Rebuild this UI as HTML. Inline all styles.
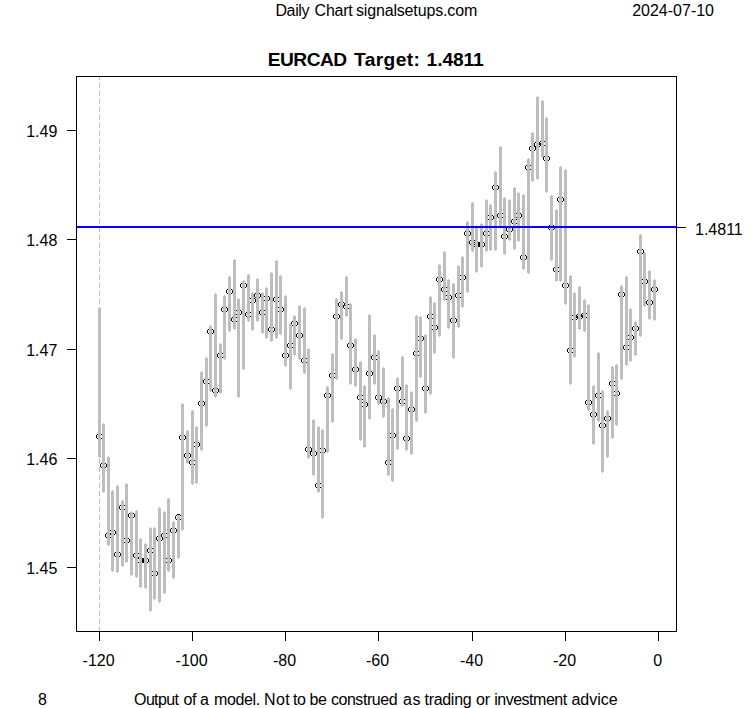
<!DOCTYPE html>
<html lang="en"><head><meta charset="utf-8"><title>EURCAD Target: 1.4811</title>
<style>html,body{margin:0;padding:0;background:#fff}body{width:753px;height:708px;overflow:hidden}svg{display:block}text{font-family:"Liberation Sans",Arial,sans-serif;font-size:16px;fill:#000}.t{font-weight:bold;font-size:19.2px}</style></head><body>
<svg width="753" height="708" viewBox="0 0 753 708">
<rect width="753" height="708" fill="#fff"/>
<g fill="#000" shape-rendering="crispEdges">
<path d="M98 433h3v1h-3zM98 439h3v1h-3zM96 435h1v3h-1zM102 435h1v3h-1zM97 434h1v1h-1zM97 438h1v1h-1zM101 434h1v1h-1zM101 438h1v1h-1zM102 462h3v1h-3zM102 468h3v1h-3zM100 464h1v3h-1zM106 464h1v3h-1zM101 463h1v1h-1zM101 467h1v1h-1zM105 463h1v1h-1zM105 467h1v1h-1zM107 532h3v1h-3zM107 538h3v1h-3zM105 534h1v3h-1zM111 534h1v3h-1zM106 533h1v1h-1zM106 537h1v1h-1zM110 533h1v1h-1zM110 537h1v1h-1zM111 529h3v1h-3zM111 535h3v1h-3zM109 531h1v3h-1zM115 531h1v3h-1zM110 530h1v1h-1zM110 534h1v1h-1zM114 530h1v1h-1zM114 534h1v1h-1zM116 551h3v1h-3zM116 557h3v1h-3zM114 553h1v3h-1zM120 553h1v3h-1zM115 552h1v1h-1zM115 556h1v1h-1zM119 552h1v1h-1zM119 556h1v1h-1zM121 504h3v1h-3zM121 510h3v1h-3zM119 506h1v3h-1zM125 506h1v3h-1zM120 505h1v1h-1zM120 509h1v1h-1zM124 505h1v1h-1zM124 509h1v1h-1zM125 537h3v1h-3zM125 543h3v1h-3zM123 539h1v3h-1zM129 539h1v3h-1zM124 538h1v1h-1zM124 542h1v1h-1zM128 538h1v1h-1zM128 542h1v1h-1zM130 512h3v1h-3zM130 518h3v1h-3zM128 514h1v3h-1zM134 514h1v3h-1zM129 513h1v1h-1zM129 517h1v1h-1zM133 513h1v1h-1zM133 517h1v1h-1zM135 552h3v1h-3zM135 558h3v1h-3zM133 554h1v3h-1zM139 554h1v3h-1zM134 553h1v1h-1zM134 557h1v1h-1zM138 553h1v1h-1zM138 557h1v1h-1zM139 557h3v1h-3zM139 563h3v1h-3zM137 559h1v3h-1zM143 559h1v3h-1zM138 558h1v1h-1zM138 562h1v1h-1zM142 558h1v1h-1zM142 562h1v1h-1zM144 557h3v1h-3zM144 563h3v1h-3zM142 559h1v3h-1zM148 559h1v3h-1zM143 558h1v1h-1zM143 562h1v1h-1zM147 558h1v1h-1zM147 562h1v1h-1zM149 547h3v1h-3zM149 553h3v1h-3zM147 549h1v3h-1zM153 549h1v3h-1zM148 548h1v1h-1zM148 552h1v1h-1zM152 548h1v1h-1zM152 552h1v1h-1zM153 570h3v1h-3zM153 576h3v1h-3zM151 572h1v3h-1zM157 572h1v3h-1zM152 571h1v1h-1zM152 575h1v1h-1zM156 571h1v1h-1zM156 575h1v1h-1zM158 535h3v1h-3zM158 541h3v1h-3zM156 537h1v3h-1zM162 537h1v3h-1zM157 536h1v1h-1zM157 540h1v1h-1zM161 536h1v1h-1zM161 540h1v1h-1zM163 532h3v1h-3zM163 538h3v1h-3zM161 534h1v3h-1zM167 534h1v3h-1zM162 533h1v1h-1zM162 537h1v1h-1zM166 533h1v1h-1zM166 537h1v1h-1zM167 557h3v1h-3zM167 563h3v1h-3zM165 559h1v3h-1zM171 559h1v3h-1zM166 558h1v1h-1zM166 562h1v1h-1zM170 558h1v1h-1zM170 562h1v1h-1zM172 527h3v1h-3zM172 533h3v1h-3zM170 529h1v3h-1zM176 529h1v3h-1zM171 528h1v1h-1zM171 532h1v1h-1zM175 528h1v1h-1zM175 532h1v1h-1zM177 514h3v1h-3zM177 520h3v1h-3zM175 516h1v3h-1zM181 516h1v3h-1zM176 515h1v1h-1zM176 519h1v1h-1zM180 515h1v1h-1zM180 519h1v1h-1zM181 434h3v1h-3zM181 440h3v1h-3zM179 436h1v3h-1zM185 436h1v3h-1zM180 435h1v1h-1zM180 439h1v1h-1zM184 435h1v1h-1zM184 439h1v1h-1zM186 452h3v1h-3zM186 458h3v1h-3zM184 454h1v3h-1zM190 454h1v3h-1zM185 453h1v1h-1zM185 457h1v1h-1zM189 453h1v1h-1zM189 457h1v1h-1zM191 459h3v1h-3zM191 465h3v1h-3zM189 461h1v3h-1zM195 461h1v3h-1zM190 460h1v1h-1zM190 464h1v1h-1zM194 460h1v1h-1zM194 464h1v1h-1zM195 441h3v1h-3zM195 447h3v1h-3zM193 443h1v3h-1zM199 443h1v3h-1zM194 442h1v1h-1zM194 446h1v1h-1zM198 442h1v1h-1zM198 446h1v1h-1zM200 400h3v1h-3zM200 406h3v1h-3zM198 402h1v3h-1zM204 402h1v3h-1zM199 401h1v1h-1zM199 405h1v1h-1zM203 401h1v1h-1zM203 405h1v1h-1zM205 378h3v1h-3zM205 384h3v1h-3zM203 380h1v3h-1zM209 380h1v3h-1zM204 379h1v1h-1zM204 383h1v1h-1zM208 379h1v1h-1zM208 383h1v1h-1zM209 328h3v1h-3zM209 334h3v1h-3zM207 330h1v3h-1zM213 330h1v3h-1zM208 329h1v1h-1zM208 333h1v1h-1zM212 329h1v1h-1zM212 333h1v1h-1zM214 387h3v1h-3zM214 393h3v1h-3zM212 389h1v3h-1zM218 389h1v3h-1zM213 388h1v1h-1zM213 392h1v1h-1zM217 388h1v1h-1zM217 392h1v1h-1zM219 352h3v1h-3zM219 358h3v1h-3zM217 354h1v3h-1zM223 354h1v3h-1zM218 353h1v1h-1zM218 357h1v1h-1zM222 353h1v1h-1zM222 357h1v1h-1zM223 306h3v1h-3zM223 312h3v1h-3zM221 308h1v3h-1zM227 308h1v3h-1zM222 307h1v1h-1zM222 311h1v1h-1zM226 307h1v1h-1zM226 311h1v1h-1zM228 288h3v1h-3zM228 294h3v1h-3zM226 290h1v3h-1zM232 290h1v3h-1zM227 289h1v1h-1zM227 293h1v1h-1zM231 289h1v1h-1zM231 293h1v1h-1zM233 316h3v1h-3zM233 322h3v1h-3zM231 318h1v3h-1zM237 318h1v3h-1zM232 317h1v1h-1zM232 321h1v1h-1zM236 317h1v1h-1zM236 321h1v1h-1zM237 309h3v1h-3zM237 315h3v1h-3zM235 311h1v3h-1zM241 311h1v3h-1zM236 310h1v1h-1zM236 314h1v1h-1zM240 310h1v1h-1zM240 314h1v1h-1zM242 282h3v1h-3zM242 288h3v1h-3zM240 284h1v3h-1zM246 284h1v3h-1zM241 283h1v1h-1zM241 287h1v1h-1zM245 283h1v1h-1zM245 287h1v1h-1zM247 311h3v1h-3zM247 317h3v1h-3zM245 313h1v3h-1zM251 313h1v3h-1zM246 312h1v1h-1zM246 316h1v1h-1zM250 312h1v1h-1zM250 316h1v1h-1zM251 297h3v1h-3zM251 303h3v1h-3zM249 299h1v3h-1zM255 299h1v3h-1zM250 298h1v1h-1zM250 302h1v1h-1zM254 298h1v1h-1zM254 302h1v1h-1zM256 292h3v1h-3zM256 298h3v1h-3zM254 294h1v3h-1zM260 294h1v3h-1zM255 293h1v1h-1zM255 297h1v1h-1zM259 293h1v1h-1zM259 297h1v1h-1zM261 309h3v1h-3zM261 315h3v1h-3zM259 311h1v3h-1zM265 311h1v3h-1zM260 310h1v1h-1zM260 314h1v1h-1zM264 310h1v1h-1zM264 314h1v1h-1zM265 295h3v1h-3zM265 301h3v1h-3zM263 297h1v3h-1zM269 297h1v3h-1zM264 296h1v1h-1zM264 300h1v1h-1zM268 296h1v1h-1zM268 300h1v1h-1zM270 326h3v1h-3zM270 332h3v1h-3zM268 328h1v3h-1zM274 328h1v3h-1zM269 327h1v1h-1zM269 331h1v1h-1zM273 327h1v1h-1zM273 331h1v1h-1zM275 296h3v1h-3zM275 302h3v1h-3zM273 298h1v3h-1zM279 298h1v3h-1zM274 297h1v1h-1zM274 301h1v1h-1zM278 297h1v1h-1zM278 301h1v1h-1zM279 306h3v1h-3zM279 312h3v1h-3zM277 308h1v3h-1zM283 308h1v3h-1zM278 307h1v1h-1zM278 311h1v1h-1zM282 307h1v1h-1zM282 311h1v1h-1zM284 352h3v1h-3zM284 358h3v1h-3zM282 354h1v3h-1zM288 354h1v3h-1zM283 353h1v1h-1zM283 357h1v1h-1zM287 353h1v1h-1zM287 357h1v1h-1zM289 342h3v1h-3zM289 348h3v1h-3zM287 344h1v3h-1zM293 344h1v3h-1zM288 343h1v1h-1zM288 347h1v1h-1zM292 343h1v1h-1zM292 347h1v1h-1zM293 320h3v1h-3zM293 326h3v1h-3zM291 322h1v3h-1zM297 322h1v3h-1zM292 321h1v1h-1zM292 325h1v1h-1zM296 321h1v1h-1zM296 325h1v1h-1zM298 332h3v1h-3zM298 338h3v1h-3zM296 334h1v3h-1zM302 334h1v3h-1zM297 333h1v1h-1zM297 337h1v1h-1zM301 333h1v1h-1zM301 337h1v1h-1zM303 357h3v1h-3zM303 363h3v1h-3zM301 359h1v3h-1zM307 359h1v3h-1zM302 358h1v1h-1zM302 362h1v1h-1zM306 358h1v1h-1zM306 362h1v1h-1zM307 446h3v1h-3zM307 452h3v1h-3zM305 448h1v3h-1zM311 448h1v3h-1zM306 447h1v1h-1zM306 451h1v1h-1zM310 447h1v1h-1zM310 451h1v1h-1zM312 450h3v1h-3zM312 456h3v1h-3zM310 452h1v3h-1zM316 452h1v3h-1zM311 451h1v1h-1zM311 455h1v1h-1zM315 451h1v1h-1zM315 455h1v1h-1zM317 482h3v1h-3zM317 488h3v1h-3zM315 484h1v3h-1zM321 484h1v3h-1zM316 483h1v1h-1zM316 487h1v1h-1zM320 483h1v1h-1zM320 487h1v1h-1zM321 447h3v1h-3zM321 453h3v1h-3zM319 449h1v3h-1zM325 449h1v3h-1zM320 448h1v1h-1zM320 452h1v1h-1zM324 448h1v1h-1zM324 452h1v1h-1zM326 392h3v1h-3zM326 398h3v1h-3zM324 394h1v3h-1zM330 394h1v3h-1zM325 393h1v1h-1zM325 397h1v1h-1zM329 393h1v1h-1zM329 397h1v1h-1zM331 372h3v1h-3zM331 378h3v1h-3zM329 374h1v3h-1zM335 374h1v3h-1zM330 373h1v1h-1zM330 377h1v1h-1zM334 373h1v1h-1zM334 377h1v1h-1zM335 313h3v1h-3zM335 319h3v1h-3zM333 315h1v3h-1zM339 315h1v3h-1zM334 314h1v1h-1zM334 318h1v1h-1zM338 314h1v1h-1zM338 318h1v1h-1zM340 301h3v1h-3zM340 307h3v1h-3zM338 303h1v3h-1zM344 303h1v3h-1zM339 302h1v1h-1zM339 306h1v1h-1zM343 302h1v1h-1zM343 306h1v1h-1zM345 303h3v1h-3zM345 309h3v1h-3zM343 305h1v3h-1zM349 305h1v3h-1zM344 304h1v1h-1zM344 308h1v1h-1zM348 304h1v1h-1zM348 308h1v1h-1zM349 342h3v1h-3zM349 348h3v1h-3zM347 344h1v3h-1zM353 344h1v3h-1zM348 343h1v1h-1zM348 347h1v1h-1zM352 343h1v1h-1zM352 347h1v1h-1zM354 366h3v1h-3zM354 372h3v1h-3zM352 368h1v3h-1zM358 368h1v3h-1zM353 367h1v1h-1zM353 371h1v1h-1zM357 367h1v1h-1zM357 371h1v1h-1zM359 394h3v1h-3zM359 400h3v1h-3zM357 396h1v3h-1zM363 396h1v3h-1zM358 395h1v1h-1zM358 399h1v1h-1zM362 395h1v1h-1zM362 399h1v1h-1zM363 401h3v1h-3zM363 407h3v1h-3zM361 403h1v3h-1zM367 403h1v3h-1zM362 402h1v1h-1zM362 406h1v1h-1zM366 402h1v1h-1zM366 406h1v1h-1zM368 370h3v1h-3zM368 376h3v1h-3zM366 372h1v3h-1zM372 372h1v3h-1zM367 371h1v1h-1zM367 375h1v1h-1zM371 371h1v1h-1zM371 375h1v1h-1zM373 354h3v1h-3zM373 360h3v1h-3zM371 356h1v3h-1zM377 356h1v3h-1zM372 355h1v1h-1zM372 359h1v1h-1zM376 355h1v1h-1zM376 359h1v1h-1zM377 394h3v1h-3zM377 400h3v1h-3zM375 396h1v3h-1zM381 396h1v3h-1zM376 395h1v1h-1zM376 399h1v1h-1zM380 395h1v1h-1zM380 399h1v1h-1zM382 398h3v1h-3zM382 404h3v1h-3zM380 400h1v3h-1zM386 400h1v3h-1zM381 399h1v1h-1zM381 403h1v1h-1zM385 399h1v1h-1zM385 403h1v1h-1zM387 459h3v1h-3zM387 465h3v1h-3zM385 461h1v3h-1zM391 461h1v3h-1zM386 460h1v1h-1zM386 464h1v1h-1zM390 460h1v1h-1zM390 464h1v1h-1zM391 432h3v1h-3zM391 438h3v1h-3zM389 434h1v3h-1zM395 434h1v3h-1zM390 433h1v1h-1zM390 437h1v1h-1zM394 433h1v1h-1zM394 437h1v1h-1zM396 385h3v1h-3zM396 391h3v1h-3zM394 387h1v3h-1zM400 387h1v3h-1zM395 386h1v1h-1zM395 390h1v1h-1zM399 386h1v1h-1zM399 390h1v1h-1zM401 398h3v1h-3zM401 404h3v1h-3zM399 400h1v3h-1zM405 400h1v3h-1zM400 399h1v1h-1zM400 403h1v1h-1zM404 399h1v1h-1zM404 403h1v1h-1zM405 435h3v1h-3zM405 441h3v1h-3zM403 437h1v3h-1zM409 437h1v3h-1zM404 436h1v1h-1zM404 440h1v1h-1zM408 436h1v1h-1zM408 440h1v1h-1zM410 406h3v1h-3zM410 412h3v1h-3zM408 408h1v3h-1zM414 408h1v3h-1zM409 407h1v1h-1zM409 411h1v1h-1zM413 407h1v1h-1zM413 411h1v1h-1zM415 350h3v1h-3zM415 356h3v1h-3zM413 352h1v3h-1zM419 352h1v3h-1zM414 351h1v1h-1zM414 355h1v1h-1zM418 351h1v1h-1zM418 355h1v1h-1zM419 335h3v1h-3zM419 341h3v1h-3zM417 337h1v3h-1zM423 337h1v3h-1zM418 336h1v1h-1zM418 340h1v1h-1zM422 336h1v1h-1zM422 340h1v1h-1zM424 385h3v1h-3zM424 391h3v1h-3zM422 387h1v3h-1zM428 387h1v3h-1zM423 386h1v1h-1zM423 390h1v1h-1zM427 386h1v1h-1zM427 390h1v1h-1zM429 313h3v1h-3zM429 319h3v1h-3zM427 315h1v3h-1zM433 315h1v3h-1zM428 314h1v1h-1zM428 318h1v1h-1zM432 314h1v1h-1zM432 318h1v1h-1zM433 324h3v1h-3zM433 330h3v1h-3zM431 326h1v3h-1zM437 326h1v3h-1zM432 325h1v1h-1zM432 329h1v1h-1zM436 325h1v1h-1zM436 329h1v1h-1zM438 276h3v1h-3zM438 282h3v1h-3zM436 278h1v3h-1zM442 278h1v3h-1zM437 277h1v1h-1zM437 281h1v1h-1zM441 277h1v1h-1zM441 281h1v1h-1zM443 286h3v1h-3zM443 292h3v1h-3zM441 288h1v3h-1zM447 288h1v3h-1zM442 287h1v1h-1zM442 291h1v1h-1zM446 287h1v1h-1zM446 291h1v1h-1zM447 294h3v1h-3zM447 300h3v1h-3zM445 296h1v3h-1zM451 296h1v3h-1zM446 295h1v1h-1zM446 299h1v1h-1zM450 295h1v1h-1zM450 299h1v1h-1zM452 317h3v1h-3zM452 323h3v1h-3zM450 319h1v3h-1zM456 319h1v3h-1zM451 318h1v1h-1zM451 322h1v1h-1zM455 318h1v1h-1zM455 322h1v1h-1zM457 292h3v1h-3zM457 298h3v1h-3zM455 294h1v3h-1zM461 294h1v3h-1zM456 293h1v1h-1zM456 297h1v1h-1zM460 293h1v1h-1zM460 297h1v1h-1zM461 274h3v1h-3zM461 280h3v1h-3zM459 276h1v3h-1zM465 276h1v3h-1zM460 275h1v1h-1zM460 279h1v1h-1zM464 275h1v1h-1zM464 279h1v1h-1zM466 230h3v1h-3zM466 236h3v1h-3zM464 232h1v3h-1zM470 232h1v3h-1zM465 231h1v1h-1zM465 235h1v1h-1zM469 231h1v1h-1zM469 235h1v1h-1zM471 239h3v1h-3zM471 245h3v1h-3zM469 241h1v3h-1zM475 241h1v3h-1zM470 240h1v1h-1zM470 244h1v1h-1zM474 240h1v1h-1zM474 244h1v1h-1zM475 241h3v1h-3zM475 247h3v1h-3zM473 243h1v3h-1zM479 243h1v3h-1zM474 242h1v1h-1zM474 246h1v1h-1zM478 242h1v1h-1zM478 246h1v1h-1zM480 241h3v1h-3zM480 247h3v1h-3zM478 243h1v3h-1zM484 243h1v3h-1zM479 242h1v1h-1zM479 246h1v1h-1zM483 242h1v1h-1zM483 246h1v1h-1zM485 230h3v1h-3zM485 236h3v1h-3zM483 232h1v3h-1zM489 232h1v3h-1zM484 231h1v1h-1zM484 235h1v1h-1zM488 231h1v1h-1zM488 235h1v1h-1zM489 214h3v1h-3zM489 220h3v1h-3zM487 216h1v3h-1zM493 216h1v3h-1zM488 215h1v1h-1zM488 219h1v1h-1zM492 215h1v1h-1zM492 219h1v1h-1zM494 184h3v1h-3zM494 190h3v1h-3zM492 186h1v3h-1zM498 186h1v3h-1zM493 185h1v1h-1zM493 189h1v1h-1zM497 185h1v1h-1zM497 189h1v1h-1zM499 212h3v1h-3zM499 218h3v1h-3zM497 214h1v3h-1zM503 214h1v3h-1zM498 213h1v1h-1zM498 217h1v1h-1zM502 213h1v1h-1zM502 217h1v1h-1zM503 233h3v1h-3zM503 239h3v1h-3zM501 235h1v3h-1zM507 235h1v3h-1zM502 234h1v1h-1zM502 238h1v1h-1zM506 234h1v1h-1zM506 238h1v1h-1zM508 226h3v1h-3zM508 232h3v1h-3zM506 228h1v3h-1zM512 228h1v3h-1zM507 227h1v1h-1zM507 231h1v1h-1zM511 227h1v1h-1zM511 231h1v1h-1zM513 218h3v1h-3zM513 224h3v1h-3zM511 220h1v3h-1zM517 220h1v3h-1zM512 219h1v1h-1zM512 223h1v1h-1zM516 219h1v1h-1zM516 223h1v1h-1zM517 212h3v1h-3zM517 218h3v1h-3zM515 214h1v3h-1zM521 214h1v3h-1zM516 213h1v1h-1zM516 217h1v1h-1zM520 213h1v1h-1zM520 217h1v1h-1zM522 254h3v1h-3zM522 260h3v1h-3zM520 256h1v3h-1zM526 256h1v3h-1zM521 255h1v1h-1zM521 259h1v1h-1zM525 255h1v1h-1zM525 259h1v1h-1zM527 164h3v1h-3zM527 170h3v1h-3zM525 166h1v3h-1zM531 166h1v3h-1zM526 165h1v1h-1zM526 169h1v1h-1zM530 165h1v1h-1zM530 169h1v1h-1zM531 145h3v1h-3zM531 151h3v1h-3zM529 147h1v3h-1zM535 147h1v3h-1zM530 146h1v1h-1zM530 150h1v1h-1zM534 146h1v1h-1zM534 150h1v1h-1zM536 141h3v1h-3zM536 147h3v1h-3zM534 143h1v3h-1zM540 143h1v3h-1zM535 142h1v1h-1zM535 146h1v1h-1zM539 142h1v1h-1zM539 146h1v1h-1zM541 140h3v1h-3zM541 146h3v1h-3zM539 142h1v3h-1zM545 142h1v3h-1zM540 141h1v1h-1zM540 145h1v1h-1zM544 141h1v1h-1zM544 145h1v1h-1zM545 155h3v1h-3zM545 161h3v1h-3zM543 157h1v3h-1zM549 157h1v3h-1zM544 156h1v1h-1zM544 160h1v1h-1zM548 156h1v1h-1zM548 160h1v1h-1zM550 224h3v1h-3zM550 230h3v1h-3zM548 226h1v3h-1zM554 226h1v3h-1zM549 225h1v1h-1zM549 229h1v1h-1zM553 225h1v1h-1zM553 229h1v1h-1zM555 266h3v1h-3zM555 272h3v1h-3zM553 268h1v3h-1zM559 268h1v3h-1zM554 267h1v1h-1zM554 271h1v1h-1zM558 267h1v1h-1zM558 271h1v1h-1zM559 196h3v1h-3zM559 202h3v1h-3zM557 198h1v3h-1zM563 198h1v3h-1zM558 197h1v1h-1zM558 201h1v1h-1zM562 197h1v1h-1zM562 201h1v1h-1zM564 282h3v1h-3zM564 288h3v1h-3zM562 284h1v3h-1zM568 284h1v3h-1zM563 283h1v1h-1zM563 287h1v1h-1zM567 283h1v1h-1zM567 287h1v1h-1zM569 347h3v1h-3zM569 353h3v1h-3zM567 349h1v3h-1zM573 349h1v3h-1zM568 348h1v1h-1zM568 352h1v1h-1zM572 348h1v1h-1zM572 352h1v1h-1zM573 314h3v1h-3zM573 320h3v1h-3zM571 316h1v3h-1zM577 316h1v3h-1zM572 315h1v1h-1zM572 319h1v1h-1zM576 315h1v1h-1zM576 319h1v1h-1zM578 313h3v1h-3zM578 319h3v1h-3zM576 315h1v3h-1zM582 315h1v3h-1zM577 314h1v1h-1zM577 318h1v1h-1zM581 314h1v1h-1zM581 318h1v1h-1zM583 312h3v1h-3zM583 318h3v1h-3zM581 314h1v3h-1zM587 314h1v3h-1zM582 313h1v1h-1zM582 317h1v1h-1zM586 313h1v1h-1zM586 317h1v1h-1zM587 399h3v1h-3zM587 405h3v1h-3zM585 401h1v3h-1zM591 401h1v3h-1zM586 400h1v1h-1zM586 404h1v1h-1zM590 400h1v1h-1zM590 404h1v1h-1zM592 411h3v1h-3zM592 417h3v1h-3zM590 413h1v3h-1zM596 413h1v3h-1zM591 412h1v1h-1zM591 416h1v1h-1zM595 412h1v1h-1zM595 416h1v1h-1zM597 392h3v1h-3zM597 398h3v1h-3zM595 394h1v3h-1zM601 394h1v3h-1zM596 393h1v1h-1zM596 397h1v1h-1zM600 393h1v1h-1zM600 397h1v1h-1zM601 422h3v1h-3zM601 428h3v1h-3zM599 424h1v3h-1zM605 424h1v3h-1zM600 423h1v1h-1zM600 427h1v1h-1zM604 423h1v1h-1zM604 427h1v1h-1zM606 415h3v1h-3zM606 421h3v1h-3zM604 417h1v3h-1zM610 417h1v3h-1zM605 416h1v1h-1zM605 420h1v1h-1zM609 416h1v1h-1zM609 420h1v1h-1zM611 380h3v1h-3zM611 386h3v1h-3zM609 382h1v3h-1zM615 382h1v3h-1zM610 381h1v1h-1zM610 385h1v1h-1zM614 381h1v1h-1zM614 385h1v1h-1zM615 390h3v1h-3zM615 396h3v1h-3zM613 392h1v3h-1zM619 392h1v3h-1zM614 391h1v1h-1zM614 395h1v1h-1zM618 391h1v1h-1zM618 395h1v1h-1zM620 291h3v1h-3zM620 297h3v1h-3zM618 293h1v3h-1zM624 293h1v3h-1zM619 292h1v1h-1zM619 296h1v1h-1zM623 292h1v1h-1zM623 296h1v1h-1zM625 344h3v1h-3zM625 350h3v1h-3zM623 346h1v3h-1zM629 346h1v3h-1zM624 345h1v1h-1zM624 349h1v1h-1zM628 345h1v1h-1zM628 349h1v1h-1zM629 334h3v1h-3zM629 340h3v1h-3zM627 336h1v3h-1zM633 336h1v3h-1zM628 335h1v1h-1zM628 339h1v1h-1zM632 335h1v1h-1zM632 339h1v1h-1zM634 325h3v1h-3zM634 331h3v1h-3zM632 327h1v3h-1zM638 327h1v3h-1zM633 326h1v1h-1zM633 330h1v1h-1zM637 326h1v1h-1zM637 330h1v1h-1zM639 248h3v1h-3zM639 254h3v1h-3zM637 250h1v3h-1zM643 250h1v3h-1zM638 249h1v1h-1zM638 253h1v1h-1zM642 249h1v1h-1zM642 253h1v1h-1zM643 278h3v1h-3zM643 284h3v1h-3zM641 280h1v3h-1zM647 280h1v3h-1zM642 279h1v1h-1zM642 283h1v1h-1zM646 279h1v1h-1zM646 283h1v1h-1zM648 299h3v1h-3zM648 305h3v1h-3zM646 301h1v3h-1zM652 301h1v3h-1zM647 300h1v1h-1zM647 304h1v1h-1zM651 300h1v1h-1zM651 304h1v1h-1zM653 286h3v1h-3zM653 292h3v1h-3zM651 288h1v3h-1zM657 288h1v3h-1zM652 287h1v1h-1zM652 291h1v1h-1zM656 287h1v1h-1zM656 291h1v1h-1z"/>
</g>
<g fill="#bebebe" shape-rendering="crispEdges">
<path d="M99 76h1v4h-1zM99 83h1v5h-1zM99 91h1v5h-1zM99 99h1v5h-1zM99 107h1v5h-1zM99 115h1v5h-1zM99 123h1v5h-1zM99 131h1v5h-1zM99 139h1v5h-1zM99 147h1v5h-1zM99 155h1v5h-1zM99 163h1v5h-1zM99 171h1v5h-1zM99 179h1v5h-1zM99 187h1v5h-1zM99 195h1v5h-1zM99 203h1v5h-1zM99 211h1v5h-1zM99 219h1v5h-1zM99 227h1v5h-1zM99 235h1v5h-1zM99 243h1v5h-1zM99 251h1v5h-1zM99 259h1v5h-1zM99 267h1v5h-1zM99 275h1v5h-1zM99 283h1v5h-1zM99 291h1v5h-1zM99 299h1v5h-1zM99 307h1v5h-1zM99 315h1v5h-1zM99 323h1v5h-1zM99 331h1v5h-1zM99 339h1v5h-1zM99 347h1v5h-1zM99 355h1v5h-1zM99 363h1v5h-1zM99 371h1v5h-1zM99 379h1v5h-1zM99 387h1v5h-1zM99 395h1v5h-1zM99 403h1v5h-1zM99 411h1v5h-1zM99 419h1v5h-1zM99 427h1v5h-1zM99 435h1v5h-1zM99 443h1v5h-1zM99 451h1v5h-1zM99 459h1v5h-1zM99 467h1v5h-1zM99 475h1v5h-1zM99 483h1v5h-1zM99 491h1v5h-1zM99 499h1v5h-1zM99 507h1v5h-1zM99 515h1v5h-1zM99 523h1v5h-1zM99 531h1v5h-1zM99 539h1v5h-1zM99 547h1v5h-1zM99 555h1v5h-1zM99 563h1v5h-1zM99 571h1v5h-1zM99 579h1v5h-1zM99 587h1v5h-1zM99 595h1v5h-1zM99 603h1v5h-1zM99 611h1v5h-1zM99 619h1v5h-1zM99 627h1v5h-1z"/>
<path d="M99 307h1v1h1v149h-1v1h-1v-1h-1v-149h1zM103 423h1v1h1v68h-1v1h-1v-1h-1v-68h1zM108 456h1v1h1v88h-1v1h-1v-1h-1v-88h1zM112 490h1v1h1v80h-1v1h-1v-1h-1v-80h1zM117 485h1v1h1v86h-1v1h-1v-1h-1v-86h1zM122 500h1v1h1v65h-1v1h-1v-1h-1v-65h1zM126 483h1v1h1v78h-1v1h-1v-1h-1v-78h1zM131 511h1v1h1v63h-1v1h-1v-1h-1v-63h1zM136 510h1v1h1v66h-1v1h-1v-1h-1v-66h1zM140 538h1v1h1v48h-1v1h-1v-1h-1v-48h1zM145 543h1v1h1v44h-1v1h-1v-1h-1v-44h1zM150 527h1v1h1v83h-1v1h-1v-1h-1v-83h1zM154 527h1v1h1v71h-1v1h-1v-1h-1v-71h1zM159 507h1v1h1v94h-1v1h-1v-1h-1v-94h1zM164 511h1v1h1v81h-1v1h-1v-1h-1v-81h1zM168 498h1v1h1v72h-1v1h-1v-1h-1v-72h1zM173 521h1v1h1v56h-1v1h-1v-1h-1v-56h1zM178 515h1v1h1v42h-1v1h-1v-1h-1v-42h1zM182 403h1v1h1v126h-1v1h-1v-1h-1v-126h1zM187 430h1v1h1v32h-1v1h-1v-1h-1v-32h1zM192 410h1v1h1v73h-1v1h-1v-1h-1v-73h1zM196 426h1v1h1v56h-1v1h-1v-1h-1v-56h1zM201 371h1v1h1v78h-1v1h-1v-1h-1v-78h1zM206 357h1v1h1v68h-1v1h-1v-1h-1v-68h1zM210 325h1v1h1v65h-1v1h-1v-1h-1v-65h1zM215 293h1v1h1v103h-1v1h-1v-1h-1v-103h1zM220 343h1v1h1v49h-1v1h-1v-1h-1v-49h1zM224 295h1v1h1v63h-1v1h-1v-1h-1v-63h1zM229 276h1v1h1v54h-1v1h-1v-1h-1v-54h1zM234 259h1v1h1v69h-1v1h-1v-1h-1v-69h1zM238 298h1v1h1v98h-1v1h-1v-1h-1v-98h1zM243 280h1v1h1v88h-1v1h-1v-1h-1v-88h1zM248 274h1v1h1v46h-1v1h-1v-1h-1v-46h1zM252 292h1v1h1v37h-1v1h-1v-1h-1v-37h1zM257 278h1v1h1v42h-1v1h-1v-1h-1v-42h1zM262 292h1v1h1v40h-1v1h-1v-1h-1v-40h1zM266 287h1v1h1v50h-1v1h-1v-1h-1v-50h1zM271 272h1v1h1v68h-1v1h-1v-1h-1v-68h1zM276 260h1v1h1v77h-1v1h-1v-1h-1v-77h1zM280 275h1v1h1v58h-1v1h-1v-1h-1v-58h1zM285 295h1v1h1v70h-1v1h-1v-1h-1v-70h1zM290 323h1v1h1v65h-1v1h-1v-1h-1v-65h1zM294 315h1v1h1v39h-1v1h-1v-1h-1v-39h1zM299 305h1v1h1v53h-1v1h-1v-1h-1v-53h1zM304 307h1v1h1v65h-1v1h-1v-1h-1v-65h1zM308 348h1v1h1v109h-1v1h-1v-1h-1v-109h1zM313 419h1v1h1v55h-1v1h-1v-1h-1v-55h1zM318 426h1v1h1v65h-1v1h-1v-1h-1v-65h1zM322 429h1v1h1v88h-1v1h-1v-1h-1v-88h1zM327 386h1v1h1v65h-1v1h-1v-1h-1v-65h1zM332 353h1v1h1v68h-1v1h-1v-1h-1v-68h1zM336 298h1v1h1v80h-1v1h-1v-1h-1v-80h1zM341 291h1v1h1v47h-1v1h-1v-1h-1v-47h1zM346 276h1v1h1v39h-1v1h-1v-1h-1v-39h1zM350 303h1v1h1v80h-1v1h-1v-1h-1v-80h1zM355 338h1v1h1v47h-1v1h-1v-1h-1v-47h1zM360 361h1v1h1v78h-1v1h-1v-1h-1v-78h1zM364 385h1v1h1v61h-1v1h-1v-1h-1v-61h1zM369 314h1v1h1v104h-1v1h-1v-1h-1v-104h1zM374 334h1v1h1v49h-1v1h-1v-1h-1v-49h1zM378 350h1v1h1v53h-1v1h-1v-1h-1v-53h1zM383 367h1v1h1v49h-1v1h-1v-1h-1v-49h1zM388 397h1v1h1v77h-1v1h-1v-1h-1v-77h1zM392 408h1v1h1v72h-1v1h-1v-1h-1v-72h1zM397 377h1v1h1v71h-1v1h-1v-1h-1v-71h1zM402 356h1v1h1v49h-1v1h-1v-1h-1v-49h1zM406 384h1v1h1v65h-1v1h-1v-1h-1v-65h1zM411 391h1v1h1v62h-1v1h-1v-1h-1v-62h1zM416 315h1v1h1v105h-1v1h-1v-1h-1v-105h1zM420 316h1v1h1v60h-1v1h-1v-1h-1v-60h1zM425 334h1v1h1v78h-1v1h-1v-1h-1v-78h1zM430 296h1v1h1v97h-1v1h-1v-1h-1v-97h1zM434 302h1v1h1v50h-1v1h-1v-1h-1v-50h1zM439 264h1v1h1v71h-1v1h-1v-1h-1v-71h1zM444 251h1v1h1v48h-1v1h-1v-1h-1v-48h1zM448 279h1v1h1v48h-1v1h-1v-1h-1v-48h1zM453 283h1v1h1v74h-1v1h-1v-1h-1v-74h1zM458 265h1v1h1v61h-1v1h-1v-1h-1v-61h1zM462 256h1v1h1v50h-1v1h-1v-1h-1v-50h1zM467 221h1v1h1v70h-1v1h-1v-1h-1v-70h1zM472 202h1v1h1v48h-1v1h-1v-1h-1v-48h1zM476 225h1v1h1v46h-1v1h-1v-1h-1v-46h1zM481 223h1v1h1v43h-1v1h-1v-1h-1v-43h1zM486 199h1v1h1v51h-1v1h-1v-1h-1v-51h1zM490 204h1v1h1v45h-1v1h-1v-1h-1v-45h1zM495 171h1v1h1v78h-1v1h-1v-1h-1v-78h1zM500 146h1v1h1v81h-1v1h-1v-1h-1v-81h1zM504 197h1v1h1v56h-1v1h-1v-1h-1v-56h1zM509 199h1v1h1v40h-1v1h-1v-1h-1v-40h1zM514 187h1v1h1v61h-1v1h-1v-1h-1v-61h1zM518 192h1v1h1v48h-1v1h-1v-1h-1v-48h1zM523 194h1v1h1v74h-1v1h-1v-1h-1v-74h1zM528 158h1v1h1v114h-1v1h-1v-1h-1v-114h1zM532 132h1v1h1v48h-1v1h-1v-1h-1v-48h1zM537 96h1v1h1v82h-1v1h-1v-1h-1v-82h1zM542 100h1v1h1v56h-1v1h-1v-1h-1v-56h1zM546 117h1v1h1v74h-1v1h-1v-1h-1v-74h1zM551 195h1v1h1v64h-1v1h-1v-1h-1v-64h1zM556 209h1v1h1v71h-1v1h-1v-1h-1v-71h1zM560 166h1v1h1v114h-1v1h-1v-1h-1v-114h1zM565 169h1v1h1v134h-1v1h-1v-1h-1v-134h1zM570 275h1v1h1v108h-1v1h-1v-1h-1v-108h1zM574 292h1v1h1v64h-1v1h-1v-1h-1v-64h1zM579 286h1v1h1v42h-1v1h-1v-1h-1v-42h1zM584 299h1v1h1v31h-1v1h-1v-1h-1v-31h1zM588 304h1v1h1v105h-1v1h-1v-1h-1v-105h1zM593 385h1v1h1v58h-1v1h-1v-1h-1v-58h1zM598 352h1v1h1v68h-1v1h-1v-1h-1v-68h1zM602 390h1v1h1v81h-1v1h-1v-1h-1v-81h1zM607 410h1v1h1v46h-1v1h-1v-1h-1v-46h1zM612 366h1v1h1v71h-1v1h-1v-1h-1v-71h1zM616 364h1v1h1v60h-1v1h-1v-1h-1v-60h1zM621 285h1v1h1v93h-1v1h-1v-1h-1v-93h1zM626 276h1v1h1v88h-1v1h-1v-1h-1v-88h1zM630 308h1v1h1v52h-1v1h-1v-1h-1v-52h1zM635 321h1v1h1v33h-1v1h-1v-1h-1v-33h1zM640 234h1v1h1v101h-1v1h-1v-1h-1v-101h1zM644 252h1v1h1v53h-1v1h-1v-1h-1v-53h1zM649 270h1v1h1v48h-1v1h-1v-1h-1v-48h1zM654 279h1v1h1v40h-1v1h-1v-1h-1v-40h1z"/>
</g>
<rect x="76" y="226" width="601" height="2" fill="#0000ff" shape-rendering="crispEdges"/>
<g fill="#000" shape-rendering="crispEdges">
<path d="M76 76h601v1h-601zM76 631h601v1h-601zM76 76h1v556h-1zM676 76h1v556h-1zM99 631h1v10h-1zM192 631h1v10h-1zM285 631h1v10h-1zM378 631h1v10h-1zM472 631h1v10h-1zM565 631h1v10h-1zM658 631h1v10h-1zM67 130h10v1h-10zM67 239h10v1h-10zM67 349h10v1h-10zM67 458h10v1h-10zM67 567h10v1h-10zM676 227h10v1h-10z"/>
</g>
<text x="57.3" y="137.4" text-anchor="end">1.49</text>
<text x="57.3" y="246.4" text-anchor="end">1.48</text>
<text x="57.3" y="356.4" text-anchor="end">1.47</text>
<text x="57.3" y="465.4" text-anchor="end">1.46</text>
<text x="57.3" y="574.4" text-anchor="end">1.45</text>
<text x="98.6" y="665.7" text-anchor="middle">-120</text>
<text x="191.6" y="665.7" text-anchor="middle">-100</text>
<text x="284.6" y="665.7" text-anchor="middle">-80</text>
<text x="377.6" y="665.7" text-anchor="middle">-60</text>
<text x="471.6" y="665.7" text-anchor="middle">-40</text>
<text x="564.6" y="665.7" text-anchor="middle">-20</text>
<text x="657.6" y="665.7" text-anchor="middle">0</text>
<text x="695" y="234.9">1.4811</text>
<text y="15.9"><tspan x="275.4" letter-spacing="-0.35">Daily</tspan> <tspan x="314.6" letter-spacing="-0.25">Chart</tspan> <tspan x="355.9" letter-spacing="-0.153">signalsetups.com</tspan></text>
<text x="714" y="15.9" text-anchor="end">2024-07-10</text>
<text y="66.3" class="t"><tspan x="267.8" letter-spacing="-0.54">EURCAD</tspan> <tspan x="354.0" letter-spacing="0.383">Target:</tspan> <tspan x="426.6" letter-spacing="-0.1">1.4811</tspan></text>
<text x="38" y="704.7">8</text>
<text y="704.7"><tspan x="134.1" letter-spacing="-0.66">Output</tspan> <tspan x="183.4" letter-spacing="-0.3">of</tspan> <tspan x="200.0" letter-spacing="0">a</tspan> <tspan x="214.1" letter-spacing="-0.4">model.</tspan> <tspan x="264.0" letter-spacing="0.4">Not</tspan> <tspan x="293.0" letter-spacing="-0.5">to</tspan> <tspan x="309.5" letter-spacing="-0.3">be</tspan> <tspan x="330.9" letter-spacing="-0.438">construed</tspan> <tspan x="402.9" letter-spacing="0.6">as</tspan> <tspan x="424.5" letter-spacing="-0.3">trading</tspan> <tspan x="476.1" letter-spacing="-0.3">or</tspan> <tspan x="494.15" letter-spacing="-0.483">investment</tspan> <tspan x="571.4" letter-spacing="0.0">advice</tspan></text>
</svg></body></html>
